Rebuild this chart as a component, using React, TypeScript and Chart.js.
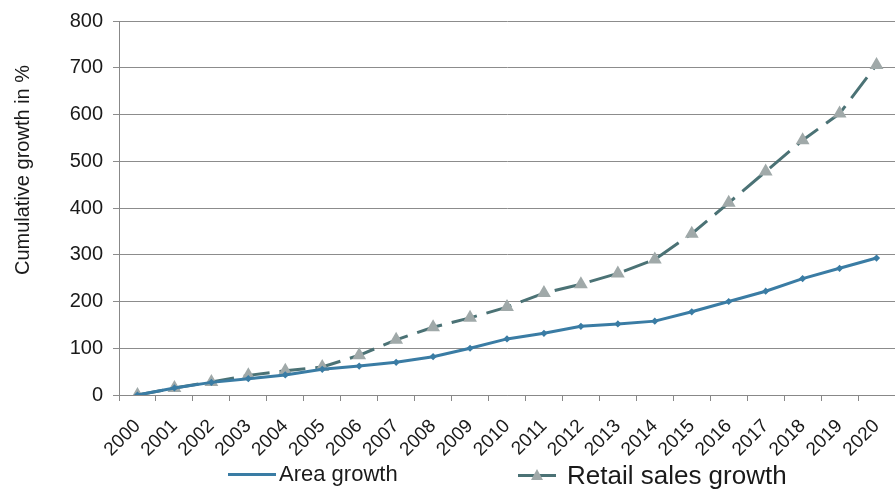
import React, { useEffect, useRef } from "react";
import { Chart, registerables } from "chart.js";

Chart.register(...registerables);

const years = ["2000","2001","2002","2003","2004","2005","2006","2007","2008","2009","2010","2011","2012","2013","2014","2015","2016","2017","2018","2019","2020"];
const areaGrowth = [0, 15, 27, 35, 43, 55, 62, 70, 82, 100, 120, 132, 147, 152, 158, 178, 200, 222, 249, 271, 293];
const retailGrowth = [0, 15, 28, 42, 52, 60, 85, 118, 145, 165, 188, 218, 237, 260, 290, 345, 411, 478, 545, 602, 706];
const yTicks = [0, 100, 200, 300, 400, 500, 600, 700, 800];
const yTitle = "Cumulative growth in %";

const FONT = "'Liberation Sans', Arial, sans-serif";
const AREA_COLOR = "#3a7ca4";
const RETAIL_COLOR = "#4b7275";
const TRI_COLOR = "#a0a9a9";
const TEXT_COLOR = "#1a1a1a";

const yTitlePlugin = {
  id: "yTitlePlugin",
  afterDraw(chart: any) {
    const ctx = chart.ctx;
    ctx.save();
    ctx.translate(23, 170);
    ctx.rotate(-Math.PI / 2);
    ctx.font = "20px " + FONT;
    ctx.fillStyle = TEXT_COLOR;
    ctx.textAlign = "center";
    ctx.textBaseline = "middle";
    ctx.fillText(yTitle, 0, 0);
    ctx.restore();
  },
};

export default function App() {
  const ref = useRef<HTMLCanvasElement>(null);
  useEffect(() => {
    if (!ref.current) return;
    const chart = new Chart(ref.current, {
      type: "line",
      data: {
        labels: years,
        datasets: [
          {
            label: "Area growth",
            data: areaGrowth,
            borderColor: AREA_COLOR,
            backgroundColor: AREA_COLOR,
            borderWidth: 3,
            pointRadius: 1.5,
            pointStyle: "rectRot",
            tension: 0,
          },
          {
            label: "Retail sales growth",
            data: retailGrowth,
            borderColor: RETAIL_COLOR,
            backgroundColor: TRI_COLOR,
            borderWidth: 3,
            borderDash: [26, 10],
            pointStyle: "triangle",
            pointRadius: 5,
            pointBorderColor: TRI_COLOR,
            pointBackgroundColor: TRI_COLOR,
            tension: 0,
          },
        ],
      },
      plugins: [yTitlePlugin],
      options: {
        animation: false,
        responsive: false,
        layout: { autoPadding: false, padding: { top: 21, right: 0, bottom: 0, left: 0 } },
        plugins: { legend: { display: false }, tooltip: { enabled: false } },
        scales: {
          x: {
            offset: true,
            grid: { drawOnChartArea: false, drawTicks: true, tickLength: 6, color: "#888", offset: true },
            border: { color: "#888", width: 1 },
            ticks: {
              autoSkip: false,
              minRotation: 45,
              maxRotation: 45,
              color: TEXT_COLOR,
              font: { family: FONT, size: 19 },
              padding: 14,
            },
            afterFit: (s: any) => { s.height = 97; s.paddingLeft = 0; s.paddingRight = 0; },
          },
          y: {
            min: 0,
            max: 800,
            afterBuildTicks: (s: any) => { s.ticks = yTicks.map((v) => ({ value: v })); },
            grid: { color: "#8c8c8c", tickLength: 6 },
            border: { color: "#888", width: 1 },
            ticks: {
              color: TEXT_COLOR,
              font: { family: FONT, size: 20 },
              padding: 10,
            },
            afterFit: (s: any) => { s.width = 119; s.paddingTop = 0; s.paddingBottom = 0; },
          },
        },
      },
    });
    return () => chart.destroy();
  }, []);

  return (
    <div style={{ position: "fixed", left: 0, top: 0, width: 895, height: 492, background: "#fff" }}>
      <canvas ref={ref} width={895} height={492} style={{ display: "block" }} />
      <div style={{ position: "absolute", left: 228, top: 459, height: 30, display: "flex", alignItems: "center", fontFamily: FONT, color: TEXT_COLOR }}>
        <div style={{ width: 48, height: 3, background: AREA_COLOR, marginRight: 3 }} />
        <span style={{ fontSize: 22 }}>Area growth</span>
      </div>
      <div style={{ position: "absolute", left: 518, top: 460, height: 30, display: "flex", alignItems: "center", fontFamily: FONT, color: TEXT_COLOR }}>
        <div style={{ position: "relative", width: 38, height: 14, marginRight: 11 }}>
          <div style={{ position: "absolute", left: 0, top: 6, width: 38, height: 3, background: RETAIL_COLOR }} />
          <div style={{ position: "absolute", left: 13, top: 1, width: 0, height: 0, borderLeft: "6px solid transparent", borderRight: "6px solid transparent", borderBottom: "11px solid " + TRI_COLOR }} />
        </div>
        <span style={{ fontSize: 26 }}>Retail sales growth</span>
      </div>
    </div>
  );
}
